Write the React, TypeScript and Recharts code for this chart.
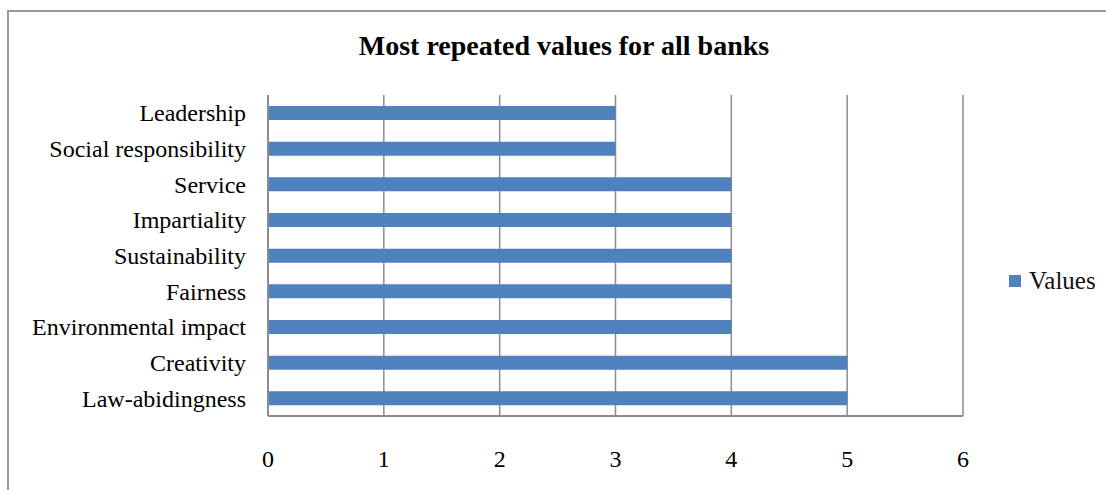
import React from "react";
import { BarChart, Bar, XAxis, YAxis, CartesianGrid } from "recharts";

const categories = [
  "Leadership",
  "Social responsibility",
  "Service",
  "Impartiality",
  "Sustainability",
  "Fairness",
  "Environmental impact",
  "Creativity",
  "Law-abidingness",
];
const values = [3, 3, 4, 4, 4, 4, 4, 5, 5];
const xTicks = [0, 1, 2, 3, 4, 5, 6];
const seriesName = "Values";

const data = categories.map((name, i) => ({ name, Values: values[i] }));

const FONT = "'Liberation Serif', 'Times New Roman', serif";
const BAR = "#4F81BD";
const GRID = "#8c8c8c";

export default function App() {
  return (
    <div
      style={{
        position: "absolute", left: 0, top: 0, width: 1106, height: 490,
        overflow: "hidden", background: "#fff", fontFamily: FONT,
      }}
    >
      <div
        style={{
          position: "absolute", left: 7, top: 10, width: 1099, height: 480,
          borderTop: "2px solid #999", borderLeft: "2px solid #999", boxSizing: "border-box",
        }}
      />
      <div
        style={{
          position: "absolute", left: 0, top: 30, width: 1128, textAlign: "center",
          fontWeight: "bold", fontSize: 28, color: "#000",
        }}
      >
        Most repeated values for all banks
      </div>
      <div
        style={{
          position: "absolute", left: 1009, top: 267, display: "flex", alignItems: "center",
          fontSize: 25, color: "#111",
        }}
      >
        <span style={{ width: 12, height: 12, background: BAR, display: "inline-block", marginRight: 8 }} />
        <span>{seriesName}</span>
      </div>
      <div style={{ position: "absolute", left: 0, top: 0 }}>
        <BarChart
          width={1106}
          height={490}
          data={data}
          layout="vertical"
          style={{ fontFamily: FONT }}
          margin={{ top: 95, right: 143, left: 0, bottom: 14 }}
        >
          <CartesianGrid horizontal={false} stroke={GRID} strokeWidth={1.5} />
          <XAxis
            type="number"
            domain={[0, 6]}
            ticks={xTicks}
            height={60}
            tickLine={false}
            tickSize={0}
            tickMargin={34}
            axisLine={{ stroke: GRID, strokeWidth: 2 }}
            tick={{ fill: "#000", fontSize: 24 }}
          />
          <YAxis
            type="category"
            dataKey="name"
            width={268}
            tickLine={false}
            tickSize={0}
            tickMargin={22}
            axisLine={{ stroke: GRID, strokeWidth: 2 }}
            tick={{ fill: "#000", fontSize: 24 }}
          />
          <Bar dataKey="Values" name={seriesName} fill={BAR} barSize={14} isAnimationActive={false} />
        </BarChart>
      </div>
    </div>
  );
}
